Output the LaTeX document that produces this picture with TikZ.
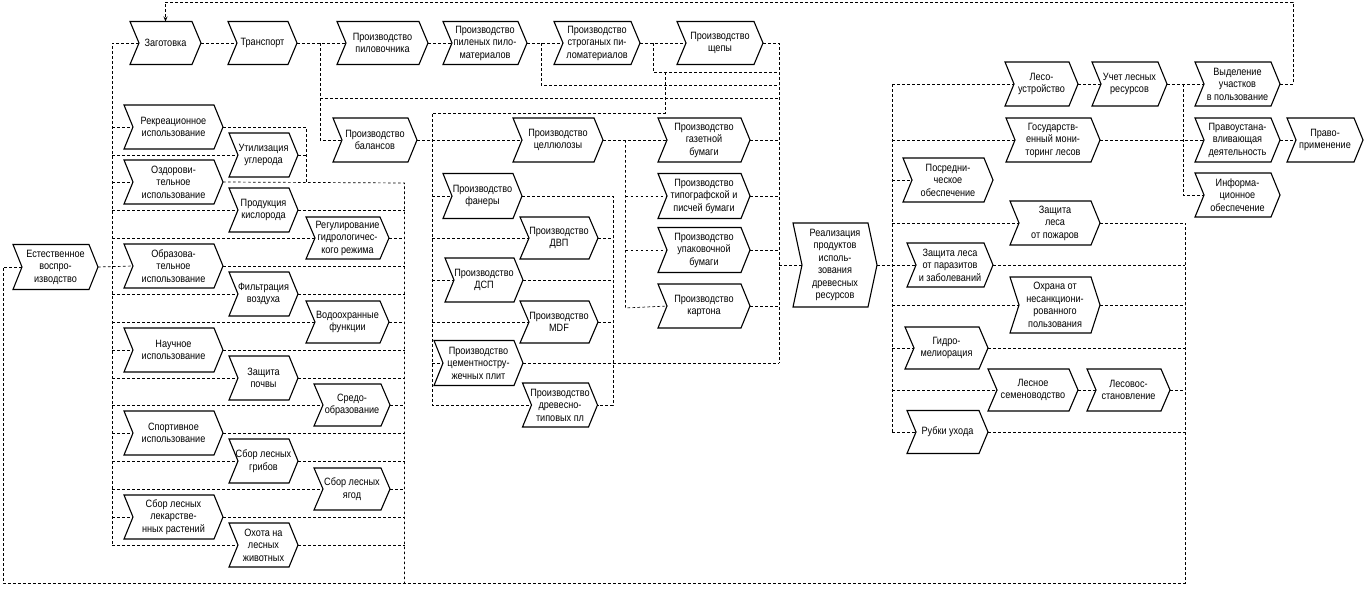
\documentclass[tikz,border=0pt]{standalone}
\usepackage{fontspec}
\setmainfont{Liberation Sans}[FakeStretch=0.86]
\usetikzlibrary{arrows.meta}
\tikzset{
  chevtext/.style={inner sep=0pt, outer sep=0pt, align=center, font=\fontsize{10.6}{12.5}\selectfont},
  chevline/.style={line width=1.1pt, line join=miter},
  conn/.style={line width=0.7pt, dash pattern=on 2.6pt off 2.4pt}
}
\newcommand\chevnode[6]{%
  \node[chevtext, minimum width=#4pt, minimum height=#5pt] (#1) at (#2,#3) {#6};
  \draw[chevline] (#1.north west) -- ([xshift=-9pt]#1.north east) -- (#1.east) -- ([xshift=-9pt]#1.south east) -- (#1.south west) -- ([xshift=9pt]#1.west) -- cycle;
  \coordinate (#1-in) at ([xshift=9pt]#1.west);
}
\begin{document}
\begin{tikzpicture}[x=1pt,y=-1pt]
\useasboundingbox (0,0) rectangle (1364,589);
% ---- top row
\chevnode{zag}{165.5}{43}{71}{43}{Заготовка}
\chevnode{trans}{262.5}{43}{69}{43}{Транспорт}
\chevnode{pilov}{382.5}{43}{91}{43}{Производство\\пиловочника}
\chevnode{pilen}{485}{43}{84}{43}{Производство\\пиленых пило-\\материалов}
\chevnode{strog}{597}{43}{86}{43}{Производство\\строганых пи-\\ломатериалов}
\chevnode{shchepa}{720}{43}{86}{43}{Производство\\щепы}
% ---- left
\chevnode{est}{55.5}{267}{85}{45}{Естественное\\воспро-\\изводство}
\chevnode{rekr}{173.5}{127}{99}{44}{Рекреационное\\использование}
\chevnode{ozd}{173.5}{182}{99}{44}{Оздорови-\\тельное\\использование}
\chevnode{obr}{173.5}{266}{99}{44}{Образова-\\тельное\\использование}
\chevnode{nauch}{173.5}{350}{99}{44}{Научное\\использование}
\chevnode{sport}{173.5}{433}{99}{44}{Спортивное\\использование}
\chevnode{lekar}{173.5}{517}{99}{44}{Сбор лесных\\лекарстве-\\нных растений}
\chevnode{util}{263.5}{155}{69}{44}{Утилизация\\углерода}
\chevnode{kisl}{263.5}{210}{69}{44}{Продукция\\кислорода}
\chevnode{filtr}{263.5}{294}{69}{44}{Фильтрация\\воздуха}
\chevnode{pochva}{263.5}{378}{69}{44}{Защита\\почвы}
\chevnode{grib}{263.5}{461}{69}{44}{Сбор лесных\\грибов}
\chevnode{ohota}{263.5}{545}{69}{44}{Охота на\\лесных\\животных}
\chevnode{reg}{347.5}{238}{83}{42}{Регулирование\\гидрологичес-\\кого режима}
\chevnode{vodo}{347.5}{322}{83}{42}{Водоохранные\\функции}
\chevnode{sredo}{352}{405}{76}{42}{Средо-\\образование}
\chevnode{yagod}{352}{489}{76}{42}{Сбор лесных\\ягод}
% ---- middle
\chevnode{balans}{375}{140}{84}{44}{Производство\\балансов}
\chevnode{cell}{558}{140}{90}{44}{Производство\\целлюлозы}
\chevnode{fanera}{482.5}{196}{79}{45}{Производство\\фанеры}
\chevnode{dvp}{559}{238}{78}{42}{Производство\\ДВП}
\chevnode{dsp}{484}{280}{78}{44}{Производство\\ДСП}
\chevnode{mdf}{559}{322}{78}{42}{Производство\\MDF}
\chevnode{cement}{478.5}{363}{89}{45}{Производство\\цементностру-\\жечных плит}
\chevnode{drev}{560}{405}{75}{44}{Производство\\древесно-\\типовых пл}
\chevnode{gazet}{704}{140}{92}{44}{Производство\\газетной\\бумаги}
\chevnode{tipogr}{704}{196}{92}{45}{Производство\\типографской и\\писчей бумаги}
\chevnode{upak}{704}{250}{92}{45}{Производство\\упаковочной\\бумаги}
\chevnode{karton}{704}{306}{92}{44}{Производство\\картона}
\chevnode{real}{835}{265}{84}{84}{Реализация\\продуктов\\исполь-\\зования\\древесных\\ресурсов}
% ---- right
\chevnode{posred}{948}{180}{90}{44}{Посредни-\\ческое\\обеспечение}
\chevnode{zparaz}{950}{265}{86}{44}{Защита леса\\от паразитов\\и заболеваний}
\chevnode{gidro}{946.5}{348}{83}{42}{Гидро-\\мелиорация}
\chevnode{rubki}{947.5}{432}{81}{43}{Рубки ухода}
\chevnode{lesoustr}{1041.5}{84}{73}{44}{Лесо-\\устройство}
\chevnode{gosmon}{1053}{140}{94}{44}{Государств-\\енный мони-\\торинг лесов}
\chevnode{zpozh}{1055}{223}{90}{44}{Защита\\леса\\от пожаров}
\chevnode{ohrana}{1055}{305}{90}{56}{Охрана от\\несанкциони-\\рованного\\пользования}
\chevnode{semen}{1033}{390}{90}{42}{Лесное\\семеноводство}
\chevnode{lesovos}{1128.5}{390}{83}{42}{Лесовос-\\становление}
\chevnode{uchet}{1129.5}{84}{75}{44}{Учет лесных\\ресурсов}
\chevnode{vydel}{1237.5}{84}{85}{44}{Выделение\\участков\\в пользование}
\chevnode{pravoust}{1237.5}{140}{85}{44}{Правоустана-\\вливающая\\деятельность}
\chevnode{pravoprim}{1325}{140}{76}{44}{Право-\\применение}
\chevnode{inform}{1237.5}{195}{85}{44}{Информа-\\ционное\\обеспечение}
% ---- routing coordinates
\coordinate (fbR) at (1293,2);
\coordinate (busL) at (112,545);
\coordinate (jR) at (306,183);
\coordinate (busR) at (404.5,183);
\coordinate (loopBL) at (3,583);
\coordinate (loopBR) at (1185,583);
\coordinate (busRR) at (1185,223);
\coordinate (busM) at (892,84);
\coordinate (busI) at (1183,84);
\coordinate (jT) at (320,43);
\coordinate (h98) at (320,98);
\coordinate (busP) at (779,363);
\coordinate (jS1) at (541,85);
\coordinate (jS2) at (653,72);
\coordinate (jV) at (665,72);
\coordinate (bT) at (432,113);
\coordinate (bB) at (432,405);
\coordinate (busC) at (625.5,308);
\coordinate (busF) at (613,405);
% ---- connectors, left part
\draw[conn,-{Stealth[length=5pt,width=4pt]}] (vydel.east) -| (fbR) -| (zag.north);
\draw[conn] (zag.east) -- (trans-in);
\draw[conn] (zag-in) -| (busL);
\foreach \n in {rekr,util,ozd,kisl,reg,filtr,vodo,nauch,pochva,sredo,sport,grib,yagod,lekar,ohota}
  \draw[conn] (busL |- \n-in) -- (\n-in);
\draw[conn] (est.east) -- (obr-in);
\draw[conn] (rekr.east) -| (jR);
\draw[conn] (util.east) -- (util.east -| jR);
\draw[conn] (ozd.east) -- (busR) -- (busR |- loopBL);
\foreach \n in {kisl,reg,obr,filtr,vodo,nauch,pochva,sredo,sport,grib,yagod,lekar,ohota}
  \draw[conn] (\n.east) -- (\n.east -| busR);
\draw[conn] (est-in) -| (loopBL) -- (loopBR) -- (busRR);
\foreach \n in {zpozh,zparaz,ohrana,gidro,lesovos,rubki}
  \draw[conn] (\n.east) -- (\n.east -| busRR);
% ---- connectors, middle part
\draw[conn] (trans.east) -- (pilov-in);
\draw[conn] (jT) |- (balans-in);
\draw[conn] (h98) -- (h98 -| busP);
\draw[conn] (pilov.east) -- (pilen-in);
\draw[conn] (pilen.east) -- (strog-in);
\draw[conn] (jS1 |- pilen.east) -- (jS1) -- (jS1 -| busP);
\draw[conn] (strog.east) -- (shchepa-in);
\draw[conn] (jS2 |- strog.east) -- (jS2) -- (jS2 -| busP);
\draw[conn] (shchepa.east) -| (busP);
\foreach \n in {gazet,tipogr,upak,karton}
  \draw[conn] (\n.east) -- (\n.east -| busP);
\draw[conn] (busP |- real-in) -- (real-in);
\draw[conn] (cement.east) -- (cement.east -| busP);
\draw[conn] (jV) |- (bT) -- (bB) -- (drev-in);
\draw[conn] (balans.east) -- (cell-in);
\foreach \n in {fanera,dvp,dsp,mdf,cement}
  \draw[conn] (bT |- \n-in) -- (\n-in);
\draw[conn] (cell.east) -- (gazet-in);
\draw[conn] (busC |- cell.east) -- (busC) -- (karton-in);
\foreach \n in {tipogr,upak}
  \draw[conn] (busC |- \n-in) -- (\n-in);
\draw[conn] (fanera.east) -| (busF) -- (drev.east);
\foreach \n in {dvp,dsp,mdf}
  \draw[conn] (\n.east) -- (\n.east -| busF);
% ---- connectors, right part
\draw[conn] (real.east) -- (zparaz-in);
\draw[conn] (busM) -- (busM |- rubki-in);
\foreach \n in {lesoustr,gosmon,posred,zpozh,ohrana,gidro,semen,rubki}
  \draw[conn] (busM |- \n-in) -- (\n-in);
\draw[conn] (lesoustr.east) -- (uchet-in);
\draw[conn] (uchet.east) -- (vydel-in);
\draw[conn] (busI) |- (inform-in);
\draw[conn] (gosmon.east) -- (pravoust-in);
\draw[conn] (pravoust.east) -- (pravoprim-in);
\draw[conn] (semen.east) -- (lesovos-in);
\end{tikzpicture}
\end{document}
